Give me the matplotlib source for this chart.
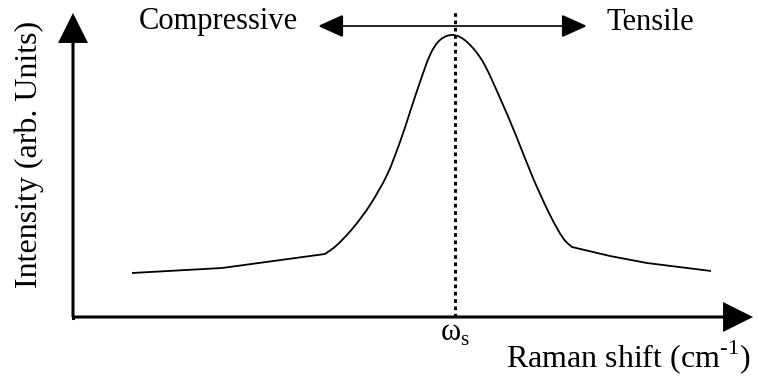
import numpy as np
import matplotlib.pyplot as plt
from matplotlib.patches import FancyArrowPatch, PathPatch
from matplotlib.path import Path

plt.rcParams['font.family'] = ['Liberation Serif', 'DejaVu Serif']
plt.rcParams['mathtext.fontset'] = 'custom'
plt.rcParams['mathtext.rm'] = 'Liberation Serif'

# schematic Raman band (arbitrary units)
raman_shift = [59, 149, 252, 264, 280, 297, 314, 327, 337, 347, 357, 367, 380,
               394, 410, 427, 444, 460, 477, 490, 499, 537, 574, 638]
intensity = [44, 49, 63, 72, 89, 112, 142, 175, 205, 235, 262, 277, 282,
             275, 255, 219, 179, 139, 102, 79, 70, 61, 54, 46]
peak_start, peak_end = 2, 20   # smooth part of the band
omega_s = 382
x_label = 'Raman shift (cm$^{\\text{-1}}$)'
y_label = 'Intensity (arb. Units)'

fig = plt.figure(figsize=(7.59, 3.76), dpi=100)
ax = fig.add_axes([0, 0, 1, 1])
ax.set_xlim(-73, 686)
ax.set_ylim(-59, 317)
ax.axis('off')

def arrow(p0, p1, style, lw):
    a = FancyArrowPatch(p0, p1, arrowstyle=style, mutation_scale=20,
                        lw=lw, color='black', shrinkA=0, shrinkB=0,
                        joinstyle='miter', capstyle='butt')
    ax.add_patch(a)

# axes with arrow heads
arrow((0, 0), (680, 0), '-|>,head_length=0.9,head_width=0.45', 2.2)
arrow((0, 0), (0, 304), '-|>,head_length=0.9,head_width=0.45', 2.2)
ax.plot([0, 0], [-1, 0], color='black', lw=2.2)

# band: straight tails, bezier through the peak points
pts = np.column_stack([raman_shift, intensity]).astype(float)
verts = [pts[0]]
codes = [Path.MOVETO]
for i in range(1, len(pts)):
    if peak_start <= i - 1 < peak_end:
        a, b = pts[i - 1], pts[i]
        prev = pts[i - 2] if i - 1 > peak_start else a
        nxt = pts[i + 1] if i < peak_end else b
        verts += [a + (b - prev) / 6, b - (nxt - a) / 6, b]
        codes += [Path.CURVE4] * 3
    else:
        verts.append(pts[i])
        codes.append(Path.LINETO)
ax.add_patch(PathPatch(Path(verts, codes), fill=False, lw=1.3,
                       edgecolor='black', joinstyle='round'))

ax.plot([omega_s, omega_s], [0, 305], color='black', lw=2.2,
        dashes=(1.2, 1.2))

# compressive / tensile arrow
arrow((245, 291), (514, 291), '<|-|>,head_length=0.8,head_width=0.36', 1.2)
ax.text(145, 295, 'Compressive', fontsize=22, ha='center', va='center')
ax.text(577, 295, 'Tensile', fontsize=22, ha='center', va='center')

ax.text(omega_s, -17, 'ω$_{\\mathrm{s}}$', fontsize=22, ha='center', va='center')
ax.text(555, -40, x_label, fontsize=23, ha='center', va='center')
ax.text(-44, 163, y_label, fontsize=23, ha='center', va='center', rotation=90)

fig.savefig('out.png', dpi=100)
